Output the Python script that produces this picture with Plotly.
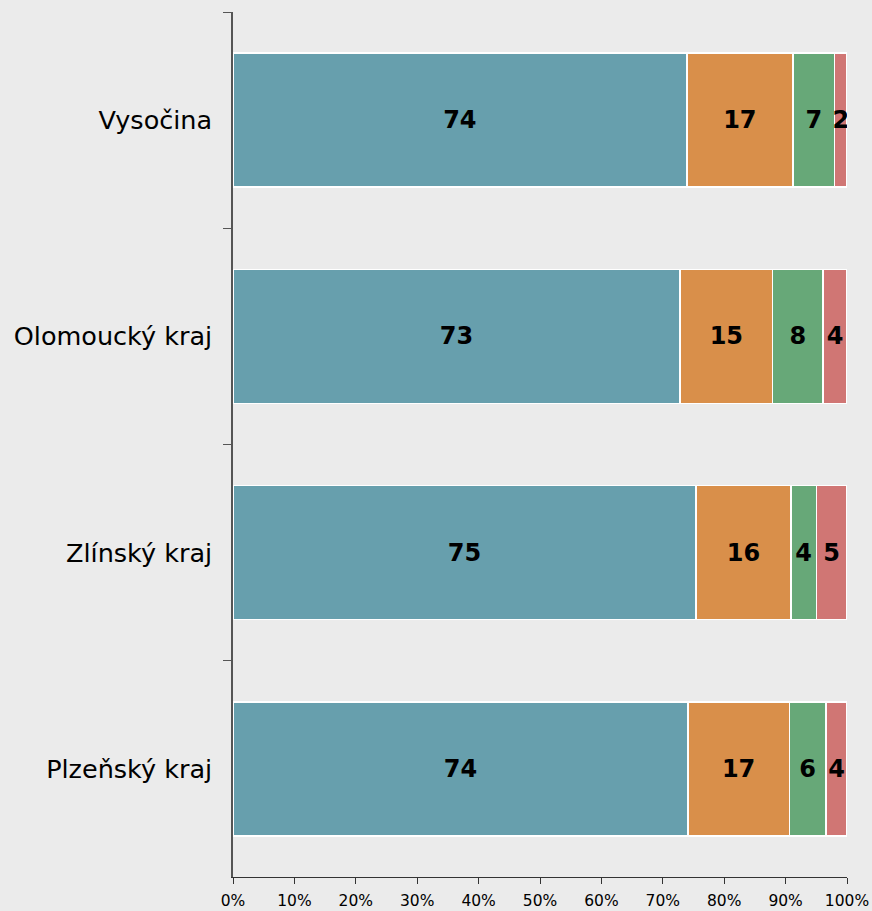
import plotly.graph_objects as go

categories = ["Vysočina", "Olomoucký kraj", "Zlínský kraj", "Plzeňský kraj"]
series_names = ["A", "B", "C", "D"]
s1 = [73.9, 72.8, 75.4, 74.1]
s2 = [17.3, 15.1, 15.5, 16.5]
s3 = [6.8, 8.2, 4.1, 6.0]
s4 = [2.0, 3.9, 5.0, 3.4]
l1 = ["74", "73", "75", "74"]
l2 = ["17", "15", "16", "17"]
l3 = ["7", "8", "4", "6"]
l4 = ["2", "4", "5", "4"]
tick_vals = [0, 10, 20, 30, 40, 50, 60, 70, 80, 90, 100]
tick_text = ["0%", "10%", "20%", "30%", "40%", "50%", "60%", "70%", "80%", "90%", "100%"]

colors = ["#679fad", "#d98f4a", "#67a878", "#d07674"]
FONT = "DejaVu Sans"

fig = go.Figure()
for name, vals, labs, col in zip(series_names, [s1, s2, s3, s4], [l1, l2, l3, l4], colors):
    fig.add_trace(go.Bar(
        y=categories, x=vals, name=name, orientation="h",
        marker=dict(color=col, line=dict(color="white", width=1.5)),
        text=labs, textposition="inside", insidetextanchor="middle",
        textfont=dict(family=FONT, size=24, color="black", weight="bold"),
        constraintext="none",
        hoverinfo="skip",
    ))

fig.update_layout(
    barmode="stack",
    bargap=0.38,
    width=872, height=911,
    margin=dict(l=233, r=25, t=12, b=34, autoexpand=False),
    paper_bgcolor="#ebebeb",
    plot_bgcolor="#ebebeb",
    showlegend=False,
    uniformtext=dict(minsize=24, mode="show"),
    font=dict(family=FONT, color="black"),
)
fig.update_xaxes(
    range=[0, 100], tickvals=tick_vals, ticktext=tick_text,
    showgrid=False, zeroline=False, automargin=False,
    showline=True, linecolor="#333333", linewidth=1,
    ticks="outside", ticklen=6, tickcolor="#333333",
    tickfont=dict(family=FONT, size=15.5, color="black"),
    ticklabelstandoff=3,
)
fig.update_yaxes(
    autorange="reversed", categoryorder="array", categoryarray=categories,
    showgrid=False, zeroline=False, automargin=False,
    showline=True, linecolor="#555555", linewidth=1.5,
    ticks="outside", ticklen=8, tickcolor="#555555", tickson="boundaries",
    tickfont=dict(family=FONT, size=25.5, color="black"),
    ticklabelstandoff=14,
)

fig.write_html(
    "out.html",
    config={"responsive": False, "displayModeBar": False},
    post_script="document.body.style.margin='0';document.body.style.overflow='hidden';document.body.style.background='#ebebeb';",
)
